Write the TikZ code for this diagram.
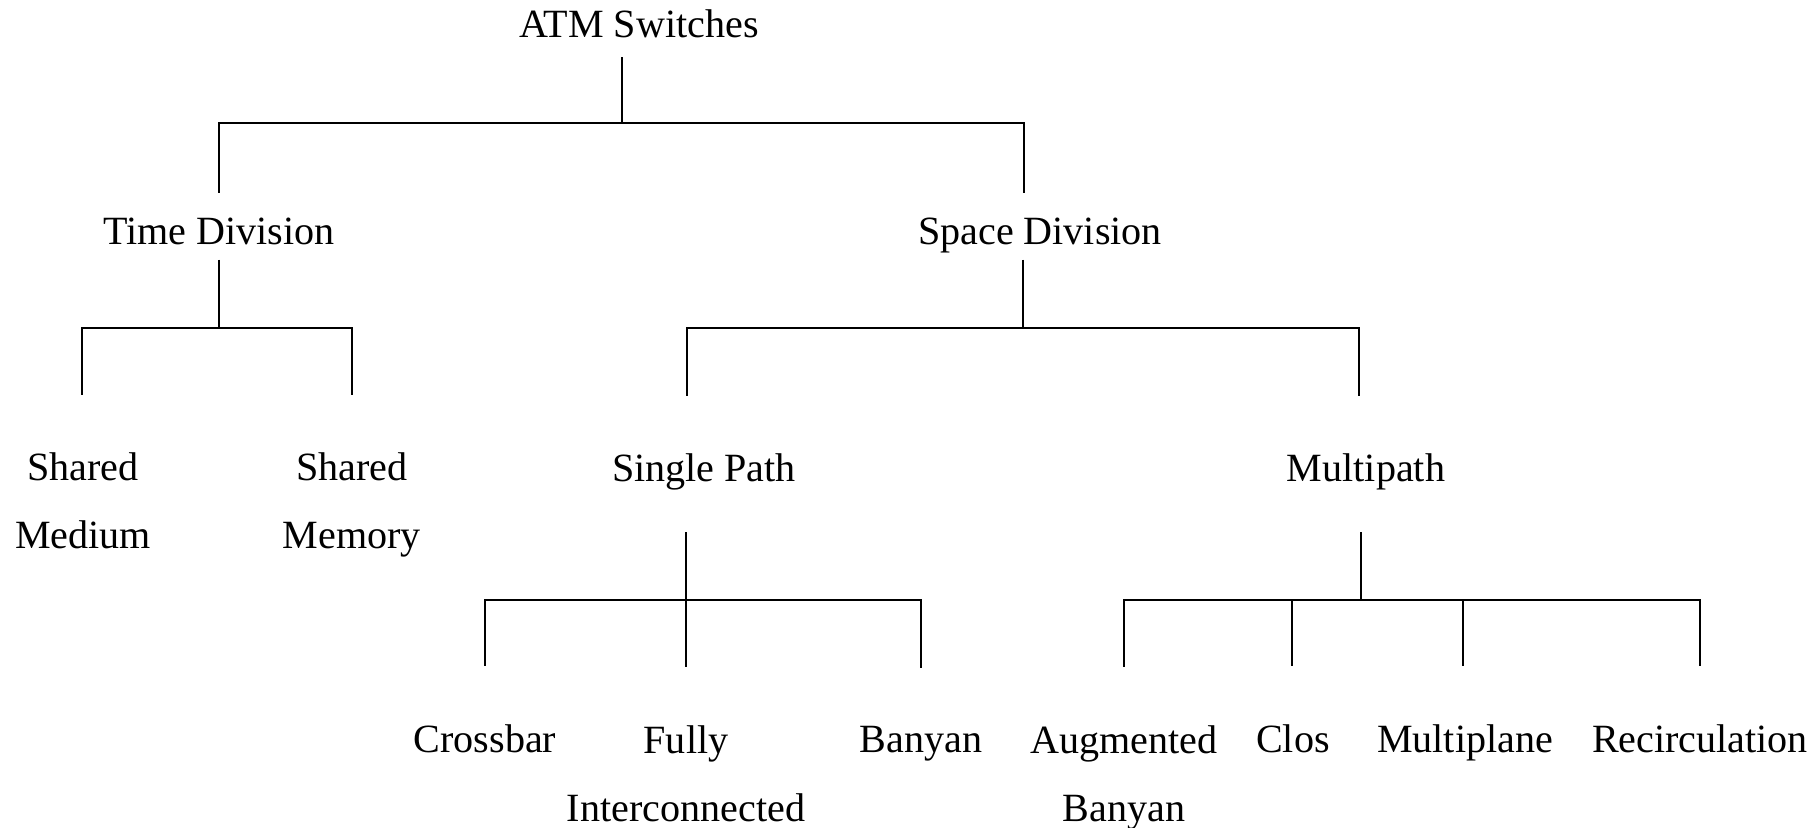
\documentclass[tikz,border=0pt]{standalone}
\usepackage{fontspec}
\setmainfont{Liberation Serif}
\usepackage{tikz}
\usetikzlibrary{positioning,calc}

\begin{document}
\begin{tikzpicture}[x=0.01cm, y=0.01cm,
    lbl/.style={anchor=base, inner sep=0pt, align=center, font=\fontsize{11.4}{19.4}\selectfont},
    edge/.style={line width=0.8pt}]
  \useasboundingbox (0,0) rectangle (1817,-828);

  % Root
  \node[lbl] (atm) at (639,-38) {ATM Switches};

  % Divisions
  \node[lbl] (tdiv) at (219,-245) {Time Division};
  \node[lbl] (sdiv) at (1040,-245) {Space Division};

  % Time division leaves (base = last line)
  \node[lbl] (smed) at (83,-549) {Shared\\Medium};
  \node[lbl] (smem) at (352,-549) {Shared\\Memory};

  % Space division branches
  \node[lbl] (spath) at (704,-482) {Single Path};
  \node[lbl] (mpath) at (1366,-482) {Multipath};

  % Single path leaves
  \node[lbl] (xbar) at (485,-753) {Crossbar};
  \node[lbl] (fully) at (686,-822) {Fully\\Interconnected};
  \node[lbl] (banyan) at (921,-753) {Banyan};

  % Multipath leaves
  \node[lbl] (aug) at (1124,-822) {Augmented\\Banyan};
  \node[lbl] (clos) at (1293,-753) {Clos};
  \node[lbl] (mplane) at (1465,-753) {Multiplane};
  \node[lbl] (recirc) at (1700,-753) {Recirculation};

  % Tree edges: stem down, along the bar, drop to child
  \foreach \c/\dx in {tdiv/0, sdiv/-1.6}
    \draw[edge] ([xshift=-1.7mm,yshift=-1.9mm]atm.base) -- ++(0,-66) -| ([xshift=\dx mm,yshift=2.5mm]\c.north);
  \foreach \c/\dx in {smed/-0.1, smem/0}
    \draw[edge] ([yshift=-1.5mm]tdiv.base) -- ++(0,-68) -| ([xshift=\dx mm,yshift=5.7mm]\c.north);
  \foreach \c/\dx in {spath/-1.7, mpath/-0.7}
    \draw[edge] ([xshift=-1.7mm,yshift=-1.5mm]sdiv.base) -- ++(0,-68) -| ([xshift=\dx mm,yshift=5.7mm]\c.north);
  \foreach \c in {xbar, fully, banyan}
    \draw[edge] ([xshift=-1.8mm,yshift=-5.0mm]spath.base) -- ++(0,-68) -| ([yshift=5.8mm]\c.north);
  \foreach \c/\dx in {aug/0, clos/-0.1, mplane/-0.2, recirc/0}
    \draw[edge] ([xshift=-0.5mm,yshift=-5.0mm]mpath.base) -- ++(0,-68) -| ([xshift=\dx mm,yshift=5.8mm]\c.north);
\end{tikzpicture}
\end{document}
